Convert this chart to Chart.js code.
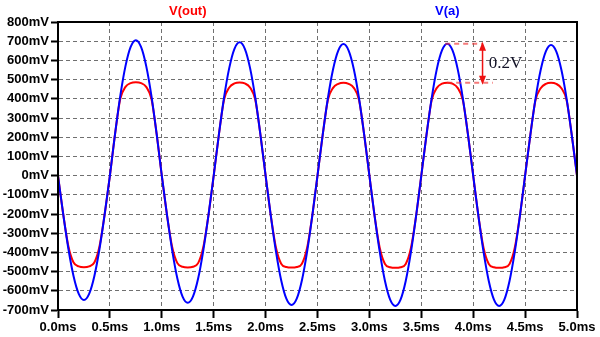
<!DOCTYPE html>
<html>
<head>
<meta charset="utf-8">
<script src="https://cdn.jsdelivr.net/npm/chart.js@4.4.1/dist/chart.umd.min.js"></script>
<style>
  body { margin: 0; background: #fff; }
  #wrap { width: 600px; height: 337px; }
</style>
</head>
<body>
<div id="wrap"><canvas id="chartScope"></canvas></div>
<script>
// sample times (ms)
const timeMs = [
  0.00, 0.05, 0.10, 0.15, 0.20, 0.25, 0.30, 0.35, 0.40, 0.45,
  0.50, 0.55, 0.60, 0.65, 0.70, 0.75, 0.80, 0.85, 0.90, 0.95,
  1.00, 1.05, 1.10, 1.15, 1.20, 1.25, 1.30, 1.35, 1.40, 1.45,
  1.50, 1.55, 1.60, 1.65, 1.70, 1.75, 1.80, 1.85, 1.90, 1.95,
  2.00, 2.05, 2.10, 2.15, 2.20, 2.25, 2.30, 2.35, 2.40, 2.45,
  2.50, 2.55, 2.60, 2.65, 2.70, 2.75, 2.80, 2.85, 2.90, 2.95,
  3.00, 3.05, 3.10, 3.15, 3.20, 3.25, 3.30, 3.35, 3.40, 3.45,
  3.50, 3.55, 3.60, 3.65, 3.70, 3.75, 3.80, 3.85, 3.90, 3.95,
  4.00, 4.05, 4.10, 4.15, 4.20, 4.25, 4.30, 4.35, 4.40, 4.45,
  4.50, 4.55, 4.60, 4.65, 4.70, 4.75, 4.80, 4.85, 4.90, 4.95,
  5.00
];

// V(a) in mV
const vA = [
  0, -200, -381, -524, -616, -648, -616, -524, -381, -200,
  0, 218, 415, 570, 670, 705, 670, 570, 415, 218,
  0, -205, -389, -536, -630, -662, -630, -536, -389, -205,
  0, 214, 408, 561, 660, 694, 660, 561, 408, 214,
  0, -208, -396, -545, -641, -674, -641, -545, -396, -208,
  0, 212, 403, 554, 651, 685, 651, 554, 403, 212,
  0, -210, -399, -549, -646, -679, -646, -549, -399, -210,
  0, 212, 404, 556, 653, 687, 653, 556, 404, 212,
  0, -210, -399, -549, -646, -679, -646, -549, -399, -210,
  0, 210, 400, 550, 647, 680, 647, 550, 400, 210,
  0
];

// V(out) in mV
const vOut = [
  0, -200, -368, -453, -473, -477, -473, -453, -368, -200,
  0, 218, 400, 462, 482, 486, 482, 462, 400, 218,
  0, -205, -372, -456, -475, -478, -475, -456, -372, -205,
  0, 214, 396, 459, 480, 485, 480, 459, 396, 214,
  0, -208, -376, -459, -476, -479, -476, -459, -376, -208,
  0, 212, 394, 457, 478, 484, 478, 457, 394, 212,
  0, -210, -377, -460, -477, -480, -477, -460, -377, -210,
  0, 212, 394, 457, 479, 484, 479, 457, 394, 212,
  0, -210, -377, -460, -477, -480, -477, -460, -377, -210,
  0, 210, 392, 455, 478, 483, 478, 455, 392, 210,
  0
];

const seriesNames = ['V(a)', 'V(out)'];

const xTickValues = [0, 0.5, 1, 1.5, 2, 2.5, 3, 3.5, 4, 4.5, 5];
const xTickLabels = ['0.0ms', '0.5ms', '1.0ms', '1.5ms', '2.0ms', '2.5ms',
  '3.0ms', '3.5ms', '4.0ms', '4.5ms', '5.0ms'];
const yTickValues = [-700, -600, -500, -400, -300, -200, -100, 0,
  100, 200, 300, 400, 500, 600, 700, 800];
const yTickLabels = ['-700mV', '-600mV', '-500mV', '-400mV', '-300mV', '-200mV',
  '-100mV', '0mV', '100mV', '200mV', '300mV', '400mV', '500mV', '600mV',
  '700mV', '800mV'];

// 0.2V marker: the two peak levels (mV) and where it sits in time (ms)
const markLevels = [687, 484];
const markStart = 3.73;
const markArrowAt = 4.09;
const markLowEnd = 4.19;
const markTextAt = 4.15;
const markText = '0.2V';

const tickFont = { family: '"Liberation Sans", Arial, sans-serif', size: 13, weight: 'bold' };

const scopeFrame = {
  id: 'scopeFrame',
  afterDraw(chart) {
    const { ctx, chartArea: a, scales: { x, y } } = chart;
    ctx.save();

    // box round the plot
    ctx.strokeStyle = '#000';
    ctx.lineWidth = 2;
    ctx.strokeRect(a.left, a.top, a.right - a.left, a.bottom - a.top);

    // trace names
    ctx.font = 'bold 13px "Liberation Sans", Arial, sans-serif';
    ctx.textAlign = 'center';
    ctx.textBaseline = 'middle';
    ctx.fillStyle = '#ff0000';
    ctx.fillText(seriesNames[1], a.left + (a.right - a.left) * 0.25, 11);
    ctx.fillStyle = '#0000ff';
    ctx.fillText(seriesNames[0], a.left + (a.right - a.left) * 0.75, 11);

    // dashed level lines
    const yHi = y.getPixelForValue(markLevels[0]);
    const yLo = y.getPixelForValue(markLevels[1]);
    const x0 = x.getPixelForValue(markStart);
    const xArrow = x.getPixelForValue(markArrowAt);
    ctx.strokeStyle = 'rgba(240, 50, 50, 0.65)';
    ctx.lineWidth = 2;
    ctx.setLineDash([5, 4]);
    ctx.beginPath();
    ctx.moveTo(x0, yHi);
    ctx.lineTo(xArrow, yHi);
    ctx.moveTo(x0 + 2, yLo);
    ctx.lineTo(x.getPixelForValue(markLowEnd), yLo);
    ctx.stroke();
    ctx.setLineDash([]);

    // double arrow
    ctx.strokeStyle = '#ee1111';
    ctx.fillStyle = '#ee1111';
    ctx.lineWidth = 1.5;
    ctx.beginPath();
    ctx.moveTo(xArrow, yHi + 6);
    ctx.lineTo(xArrow, yLo - 6);
    ctx.stroke();
    ctx.beginPath();
    ctx.moveTo(xArrow, yHi - 2);
    ctx.lineTo(xArrow - 3.5, yHi + 7);
    ctx.lineTo(xArrow + 3.5, yHi + 7);
    ctx.closePath();
    ctx.moveTo(xArrow, yLo + 2);
    ctx.lineTo(xArrow - 3.5, yLo - 7);
    ctx.lineTo(xArrow + 3.5, yLo - 7);
    ctx.closePath();
    ctx.fill();

    ctx.font = '17px "Liberation Serif", "Times New Roman", serif';
    ctx.textAlign = 'left';
    ctx.textBaseline = 'alphabetic';
    ctx.fillStyle = '#141428';
    ctx.fillText(markText, x.getPixelForValue(markTextAt), (yHi + yLo) / 2 + 5);

    ctx.restore();
  }
};

const ctScope = document.getElementById('chartScope');
const chartScope = new Chart(ctScope, {
  type: 'line',
  data: {
    datasets: [
      {
        label: seriesNames[0],
        data: timeMs.map((t, i) => ({ x: t, y: vA[i] })),
        borderColor: '#0000ff',
        borderWidth: 2,
        pointRadius: 0,
        fill: false,
        cubicInterpolationMode: 'monotone'
      },
      {
        label: seriesNames[1],
        data: timeMs.map((t, i) => ({ x: t, y: vOut[i] })),
        borderColor: '#ff0000',
        borderWidth: 2,
        pointRadius: 0,
        fill: false,
        cubicInterpolationMode: 'monotone'
      }
    ]
  },
  options: {
    responsive: true,
    maintainAspectRatio: false,
    animation: false,
    layout: {
      padding: { top: 22, right: 23, left: 0, bottom: 0 }
    },
    plugins: {
      legend: { display: false },
      tooltip: { enabled: false }
    },
    scales: {
      x: {
        type: 'linear',
        min: 0,
        max: 5,
        afterBuildTicks: (scale) => { scale.ticks = xTickValues.map(v => ({ value: v })); },
        afterFit: (scale) => { scale.height = 27; },
        ticks: {
          autoSkip: false,
          maxRotation: 0,
          padding: 2,
          color: '#000',
          font: tickFont,
          callback: (v, i) => xTickLabels[i]
        },
        grid: {
          color: '#707070',
          lineWidth: 1,
          tickColor: '#000',
          tickLength: 8,
          tickWidth: 2
        },
        border: {
          display: true,
          color: '#000',
          width: 2,
          dash: [4, 3]
        }
      },
      y: {
        min: -700,
        max: 800,
        afterBuildTicks: (scale) => { scale.ticks = yTickValues.map(v => ({ value: v })); },
        afterFit: (scale) => { scale.width = 58; },
        ticks: {
          autoSkip: false,
          padding: 2,
          color: '#000',
          font: tickFont,
          callback: (v, i) => yTickLabels[i]
        },
        grid: {
          color: '#707070',
          lineWidth: 1,
          tickColor: '#000',
          tickLength: 7,
          tickWidth: 2
        },
        border: {
          display: true,
          color: '#000',
          width: 2,
          dash: [4, 3]
        }
      }
    }
  },
  plugins: [scopeFrame]
});
</script>
</body>
</html>
